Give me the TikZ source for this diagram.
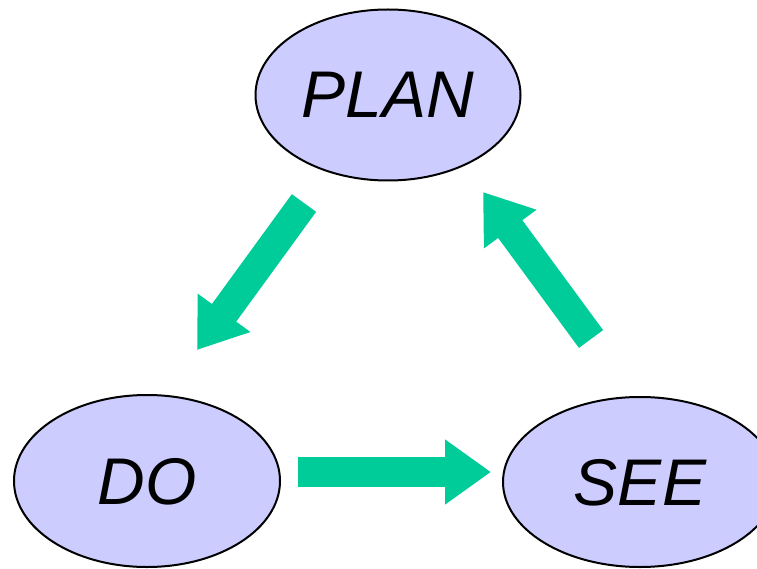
\documentclass[tikz,border=0pt]{standalone}
\usepackage{fontspec}
\setmainfont{Liberation Sans}
\usetikzlibrary{shapes.geometric,arrows.meta}
\definecolor{ellfill}{HTML}{CCCCFF}
\definecolor{arrgreen}{HTML}{00CC99}
\tikzset{
  phase/.style={ellipse, draw=black, line width=2pt, fill=ellfill, inner sep=0pt,
    font=\fontsize{66}{70}\selectfont\itshape, text depth=0pt},
  bigarrow/.style={draw=arrgreen, line width=30pt,
    -{Triangle[width=62pt,length=46pt]}, color=arrgreen}
}
\begin{document}
\begin{tikzpicture}[x=1pt,y=-1pt]
\useasboundingbox (0,0) rectangle (757,569);
\clip (0,0) rectangle (757,569);
\node[phase, minimum width=265pt, minimum height=171pt] (plan) at (388,95) {PLAN};
\node[phase, minimum width=266pt, minimum height=172pt] (do) at (147,481) {DO};
\node[phase, minimum width=274pt, minimum height=170pt] (see) at (640,482) {SEE};
\coordinate (a1s) at (304,203);
\coordinate (a1e) at (197,350);
\coordinate (a2s) at (298,472);
\coordinate (a2e) at (491,472);
\coordinate (a3s) at (591,339);
\coordinate (a3e) at (483,192);
\draw[bigarrow] (a1s) -- (a1e);
\draw[bigarrow] (a2s) -- (a2e);
\draw[bigarrow] (a3s) -- (a3e);
\end{tikzpicture}
\end{document}
